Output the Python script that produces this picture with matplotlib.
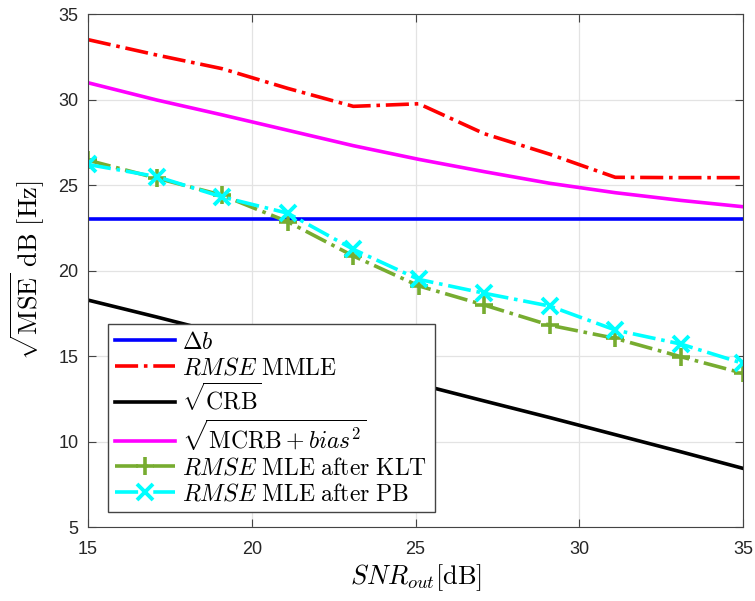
import matplotlib
matplotlib.use("Agg")
import matplotlib.pyplot as plt

plt.rcParams['font.family'] = ['Liberation Sans', 'DejaVu Sans']
plt.rcParams['mathtext.fontset'] = 'cm'

# SNR_out [dB]
snr = [15.0, 17.1, 19.1, 21.1, 23.1, 25.1, 27.1, 29.1, 31.1, 33.1, 35.0]

delta_b = [23.0] * len(snr)
rmse_mmle = [33.5, 32.6, 31.8, 30.65, 29.6, 29.75, 28.0, 26.8, 25.45, 25.43, 25.43]
sqrt_crb = [18.27, 17.28, 16.3, 15.3, 14.3, 13.35, 12.37, 11.4, 10.4, 9.4, 8.43]
sqrt_mcrb = [30.98, 29.97, 29.1, 28.2, 27.3, 26.5, 25.78, 25.1, 24.55, 24.1, 23.73]
rmse_klt = [26.45, 25.4, 24.4, 22.85, 20.85, 19.1, 17.98, 16.8, 16.03, 14.96, 13.99]
rmse_pb = [26.2, 25.49, 24.3, 23.35, 21.24, 19.48, 18.67, 17.92, 16.52, 15.7, 14.57]

fig = plt.figure(figsize=(7.55, 6.01), dpi=100)
ax = fig.add_axes([0.1166, 0.1231, 0.8675, 0.8536])

lw = 2.6
ax.plot(snr, delta_b, color='#0000ff', lw=lw, label=r'$\Delta b$')
ax.plot(snr, rmse_mmle, color='#ff0000', lw=lw, ls='-.', label=r'$RMSE\ \mathrm{MMLE}$')
ax.plot(snr, sqrt_crb, color='black', lw=lw, label=r'$\sqrt{\mathrm{CRB}}$')
ax.plot(snr, sqrt_mcrb, color='#ff00ff', lw=lw, label=r'$\sqrt{\mathrm{MCRB}+bias^2}$')
ax.plot(snr, rmse_klt, color='#77ac30', lw=lw, ls='-.', marker='+', ms=13, mew=2.6,
        label=r'$RMSE\ \mathrm{MLE\ after\ KLT}$')
ax.plot(snr, rmse_pb, color='#00ffff', lw=lw, ls='-.', marker='x', ms=11, mew=2.8,
        label=r'$RMSE\ \mathrm{MLE\ after\ PB}$')

ax.set_xlim(15, 35)
ax.set_ylim(5, 35)
ax.set_xticks([15, 20, 25, 30, 35])
ax.set_yticks([5, 10, 15, 20, 25, 30, 35])
ax.tick_params(direction='in', top=True, right=True, labelsize=13, length=6,
               color='#444444', labelcolor='#262626')
ax.tick_params(axis='x', pad=10)
ax.tick_params(axis='y', pad=7)
for s in ax.spines.values():
    s.set_color('#444444')
ax.grid(True, color='#e3e3e3', lw=0.9)
ax.set_axisbelow(True)

ax.set_xlabel(r'$SNR_{out}[\mathrm{dB}]$', fontsize=19)
ax.xaxis.set_label_coords(0.5, -0.068)
ax.set_ylabel(r'$\sqrt{\mathrm{MSE}}\ \mathrm{dB}\ [\mathrm{Hz}]$', fontsize=19)
ax.yaxis.set_label_coords(-0.062, 0.5)

leg = ax.legend(loc='lower left', bbox_to_anchor=(0.0305, 0.029), fontsize=17,
                handlelength=2.55, handletextpad=0.3, labelspacing=0.15,
                borderpad=0.3, borderaxespad=0, fancybox=False, framealpha=1)
leg.get_frame().set_edgecolor('#444444')
leg.get_frame().set_linewidth(1.0)

fig.savefig('out.png', dpi=100)
